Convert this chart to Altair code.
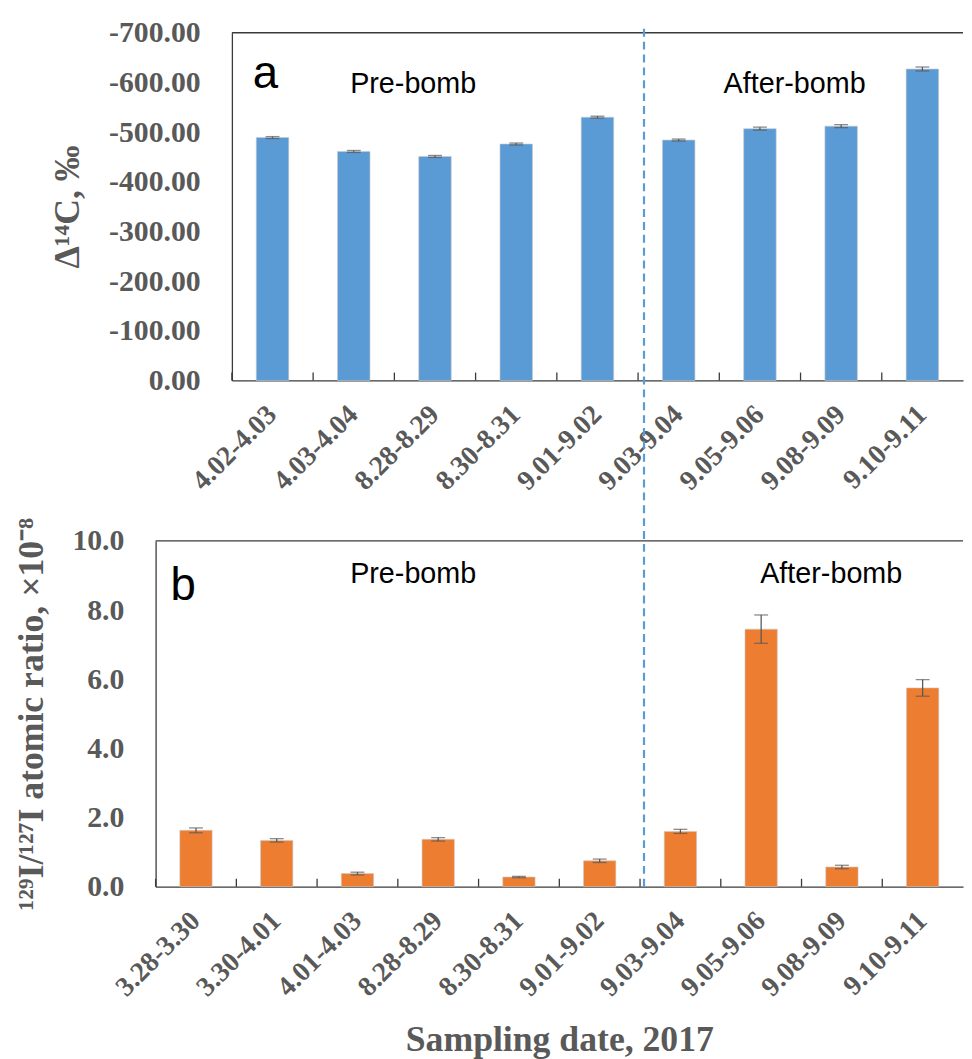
import altair as alt
import pandas as pd

# ---------------- data ----------------
c14_dates = ["4.02-4.03", "4.03-4.04", "8.28-8.29", "8.30-8.31", "9.01-9.02",
             "9.03-9.04", "9.05-9.06", "9.08-9.09", "9.10-9.11"]
c14_values = [-489, -461, -451, -476, -530, -484, -507, -512, -627]
c14_errors = [2, 2, 2, 2, 2, 2, 3, 3, 4]
c14_ticks = [-700, -600, -500, -400, -300, -200, -100, 0]

i_dates = ["3.28-3.30", "3.30-4.01", "4.01-4.03", "8.28-8.29", "8.30-8.31",
           "9.01-9.02", "9.03-9.04", "9.05-9.06", "9.08-9.09", "9.10-9.11"]
i_values = [1.63, 1.34, 0.38, 1.37, 0.28, 0.75, 1.60, 7.45, 0.57, 5.75]
i_errors = [0.07, 0.05, 0.04, 0.05, 0.02, 0.05, 0.06, 0.41, 0.05, 0.24]
i_ticks = [0, 2, 4, 6, 8, 10]

split_date = ["9.03-9.04"]

c14_df = pd.DataFrame({"date": c14_dates, "value": c14_values, "err": c14_errors})
c14_df["lo"] = c14_df["value"] - c14_df["err"]
c14_df["hi"] = c14_df["value"] + c14_df["err"]

i_df = pd.DataFrame({"date": i_dates, "value": i_values, "err": i_errors})
i_df["lo"] = i_df["value"] - i_df["err"]
i_df["hi"] = i_df["value"] + i_df["err"]

# ---------------- style ----------------
SERIF = "Liberation Serif"
SANS = "Liberation Sans"
BLUE = "#5B9BD5"
ORANGE = "#ED7D31"
GRAY = "#595959"
AXC = "#3a3a3a"
ERRC = "#595959"
TICKC = AXC

W = 815
OFF = 77
H1 = 351
H2 = 349
GAP = 162
TICK = 8

one = alt.Data(values=[{"k": 1}])


def x_axis(title=None):
    kw = dict(labelAngle=-45, labelAlign="right", labelBaseline="middle",
              labelFont=SERIF, labelFontWeight="bold", labelFontSize=28,
              labelColor=GRAY, labelPadding=30, labelOverlap=False, ticks=False,
              domainColor=AXC, domainWidth=1.3, grid=False)
    if title is None:
        return alt.Axis(title=None, **kw)
    return alt.Axis(title=title, titleFont=SERIF, titleFontWeight="bold",
                    titleFontSize=36, titleColor=GRAY, titlePadding=22, **kw)


def y_axis(title, values, title_size, offset=0, fmt=None, expr=None):
    kw = dict(title=title, values=values, grid=False, ticks=False,
              labelPadding=32, labelFont=SERIF, labelFontWeight="bold",
              labelFontSize=30, labelColor=GRAY, labelFlush=False,
              titleFont=SERIF, titleFontWeight="bold", titleFontSize=title_size,
              titleColor=GRAY, titlePadding=22, domainColor=AXC, domainWidth=1.3)
    if offset:
        kw["offset"] = offset
    if fmt:
        kw["format"] = fmt
    if expr:
        kw["labelExpr"] = expr
    return alt.Axis(**kw)


def text_layer(txt, x, y, size, align="center"):
    return alt.Chart(one).mark_text(text=txt, font=SANS, fontSize=size, color="black",
                                    align=align, baseline="alphabetic").encode(
        x=alt.value(x), y=alt.value(y))


# ---------------- panel a ----------------
sx1 = alt.Scale(range=[OFF, W], paddingInner=0, paddingOuter=0)
ax1 = x_axis(None)
x1 = alt.X("date:N", sort=c14_dates, scale=sx1, axis=ax1)
x1e = alt.X("date:N", sort=c14_dates, scale=sx1, axis=ax1, bandPosition=0)
sy1 = alt.Scale(domain=[-700, 0], reverse=True, nice=False, zero=False)
ay1 = y_axis("Δ¹⁴C, ‰", c14_ticks, 36, offset=-OFF,
             expr="datum.value < 0 ? '-' + format(-datum.value, '.2f') : format(datum.value, '.2f')")

b1 = alt.Chart(c14_df)
bars1 = b1.mark_bar(width=alt.RelativeBandSize(0.4), color=BLUE, stroke="#c9c9c9",
                    strokeWidth=0.6).encode(x=x1, y=alt.Y("value:Q", scale=sy1, axis=ay1))
err1 = b1.mark_rule(color=ERRC, strokeWidth=1.3).encode(
    x=x1, y=alt.Y("lo:Q", scale=sy1, axis=ay1), y2="hi:Q")
caplo1 = b1.mark_tick(color=ERRC, size=14, thickness=1.3, orient="horizontal").encode(
    x=x1, y=alt.Y("lo:Q", scale=sy1, axis=ay1))
caphi1 = b1.mark_tick(color=ERRC, size=14, thickness=1.3, orient="horizontal").encode(
    x=x1, y=alt.Y("hi:Q", scale=sy1, axis=ay1))
edges1 = b1.mark_rule(color=TICKC, strokeWidth=1.3).encode(
    x=x1e, y=alt.value(H1 - TICK), y2=alt.value(H1))
border1 = alt.Chart(one).mark_rule(color=AXC, strokeWidth=1.3).encode(
    x=alt.value(OFF), x2=alt.value(W), y=alt.value(0))

top = alt.layer(
    bars1, err1, caplo1, caphi1, edges1, border1,
    text_layer("a", 98, 56, 46, "left"),
    text_layer("Pre-bomb", 260, 61, 29),
    text_layer("After-bomb", 645, 61, 29),
).properties(width=W, height=H1)

# ---------------- panel b ----------------
sx2 = alt.Scale(paddingInner=0, paddingOuter=0)
ax2 = x_axis("Sampling date, 2017")
x2 = alt.X("date:N", sort=i_dates, scale=sx2, axis=ax2)
x2e = alt.X("date:N", sort=i_dates, scale=sx2, axis=ax2, bandPosition=0)
sy2 = alt.Scale(domain=[0, 10], nice=False)
ay2 = y_axis("¹²⁹I/¹²⁷I atomic ratio, ×10⁻⁸", i_ticks, 36, fmt=".1f")

b2 = alt.Chart(i_df)
bars2 = b2.mark_bar(width=alt.RelativeBandSize(0.4), color=ORANGE, stroke="#c9c9c9",
                    strokeWidth=0.6).encode(x=x2, y=alt.Y("value:Q", scale=sy2, axis=ay2))
err2 = b2.mark_rule(color=ERRC, strokeWidth=1.3).encode(
    x=x2, y=alt.Y("lo:Q", scale=sy2, axis=ay2), y2="hi:Q")
caplo2 = b2.mark_tick(color=ERRC, size=14, thickness=1.3, orient="horizontal").encode(
    x=x2, y=alt.Y("lo:Q", scale=sy2, axis=ay2))
caphi2 = b2.mark_tick(color=ERRC, size=14, thickness=1.3, orient="horizontal").encode(
    x=x2, y=alt.Y("hi:Q", scale=sy2, axis=ay2))
edges2 = b2.mark_rule(color=TICKC, strokeWidth=1.3).encode(
    x=x2e, y=alt.value(H2 - TICK), y2=alt.value(H2))
border2 = alt.Chart(one).mark_rule(color=AXC, strokeWidth=1.3).encode(
    x=alt.value(0), x2=alt.value(W), y=alt.value(0))
split = alt.Chart(pd.DataFrame({"date": split_date})).mark_rule(
    color=BLUE, strokeWidth=2.2, strokeDash=[8, 5], xOffset=4).encode(
    x=x2e, y=alt.value(H2), y2=alt.value(-(GAP + H1 + 4)))

bottom = alt.layer(
    bars2, err2, caplo2, caphi2, edges2, border2,
    text_layer("b", 15, 60, 46, "left"),
    text_layer("Pre-bomb", 260, 42, 29),
    text_layer("After-bomb", 682, 42, 29),
    split,
).properties(width=W, height=H2)

chart = alt.vconcat(top, bottom, spacing=GAP, bounds="flush").properties(
    padding={"left": 5, "top": 5, "right": 0, "bottom": 5}
).configure_view(stroke=None)

chart.save("out.html", embed_options={"renderer": "svg", "actions": False})
